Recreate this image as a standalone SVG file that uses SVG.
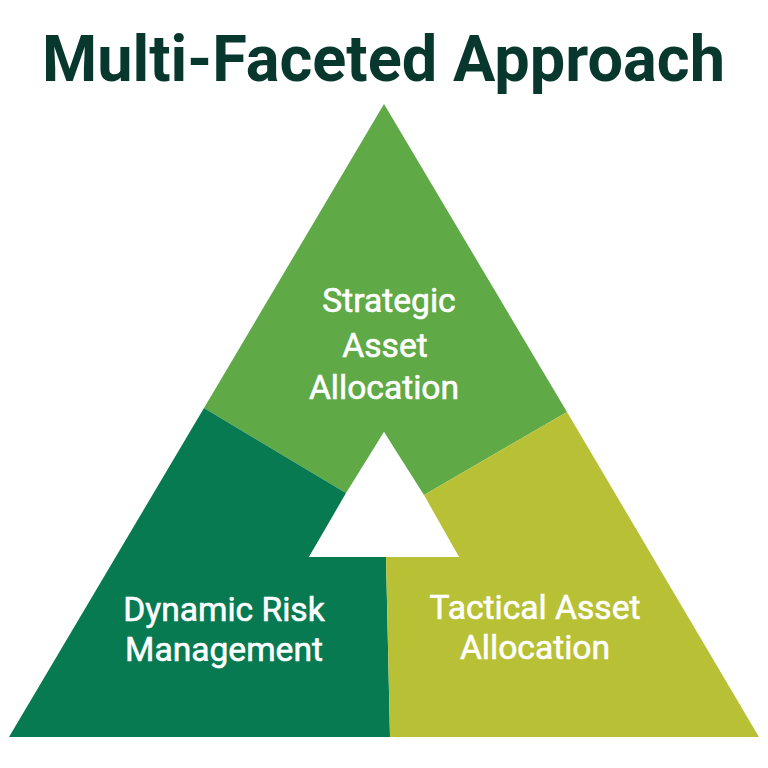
<svg xmlns="http://www.w3.org/2000/svg" width="768" height="768" viewBox="0 0 768 768">
<style>
.l{font-family:Roboto,"Liberation Sans",sans-serif;font-size:33.6px;font-weight:400;fill:#fff;text-anchor:middle;stroke:#fff;stroke-width:.6px}
</style>
<rect width="768" height="768" fill="#fff"/>
<text x="383.5" y="81" text-anchor="middle" textLength="683" lengthAdjust="spacingAndGlyphs" style="font-family:Roboto,'Liberation Sans',sans-serif;font-size:64px;font-weight:700" fill="#07372d">Multi-Faceted Approach</text>
<g id="strategic"><polygon points="384,104 567,412 424,495 384,432 346,493 204,408" fill="#5fa947"/>
<text class="l" x="389" y="311.5">Strategic</text><text class="l" x="385" y="356.5">Asset</text><text class="l" x="384" y="399">Allocation</text></g>
<g id="dynamic"><polygon points="204,408 346,493 309,557 386,557 390,737 9,737" fill="#087a52"/>
<text class="l" x="224" y="621">Dynamic Risk</text><text class="l" x="224" y="661">Management</text></g>
<g id="tactical"><polygon points="567,412 759,737 390,737 386,557 459,557 424,495" fill="#b8c136"/>
<text class="l" x="535" y="619">Tactical Asset</text><text class="l" x="535" y="659">Allocation</text></g>
<g id="center"><polygon points="384,432 459,557 309,557" fill="#fff"/></g>
</svg>
